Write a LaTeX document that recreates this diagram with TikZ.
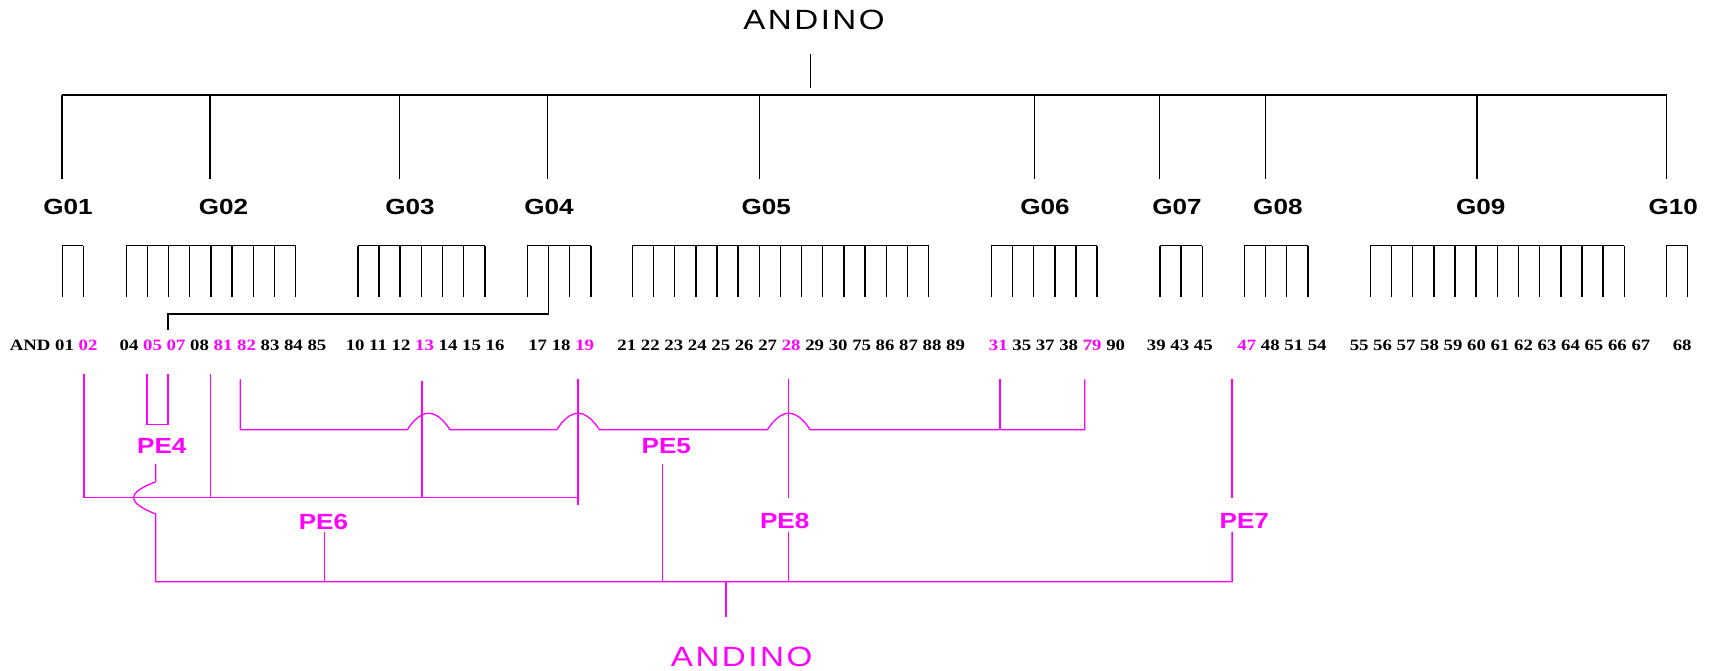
\documentclass[tikz,border=0pt]{standalone}
\usepackage{fontspec}
\newfontfamily\grpfont[FakeStretch=1.19]{Liberation Sans}
\newfontfamily\numfont[FakeStretch=1.19]{Liberation Serif}
\newfontfamily\rootfont[FakeStretch=1.19,LetterSpace=9]{Liberation Sans}
\definecolor{pmag}{RGB}{255,0,255}
\tikzset{
  tree/.style={line width=1.3pt, black},
  link/.style={line width=1.2pt, pmag},
  glabel/.style={inner sep=0pt, font=\grpfont\bfseries\fontsize{20}{24}\selectfont},
  pelabel/.style={glabel, text=pmag},
  codes/.style={inner sep=0pt, anchor=base west, font=\numfont\bfseries\fontsize{14.4}{17}\selectfont},
  rootlabel/.style={inner sep=0pt, font=\rootfont\fontsize{25.4}{30}\selectfont},
}
\begin{document}
\begin{tikzpicture}[x=1pt, y=-1pt]
  \useasboundingbox (0,0) rectangle (1568,612);

  % upper tree
  \node[rootlabel] (top) at (742.5,18.2) {ANDINO};
  \draw[tree] (739.5,49) -- (739.5,80);
  \draw[tree] (56.5,86.7) -- (1520.2,86.7);
  \foreach \x in {56.5,191.6,364.3,499.4,693,943.4,1057.8,1154.3,1347.3,1520.2}
    \draw[tree] (\x,86.7) -- (\x,163.3);

  \node[glabel] (g01) at (62,189) {G01};
  \node[glabel] (g02) at (203.9,189) {G02};
  \node[glabel] (g03) at (374,189) {G03};
  \node[glabel] (g04) at (500.8,189) {G04};
  \node[glabel] (g05) at (699,189) {G05};
  \node[glabel] (g06) at (953.2,189) {G06};
  \node[glabel] (g07) at (1073.6,189) {G07};
  \node[glabel] (g08) at (1165.6,189) {G08};
  \node[glabel] (g09) at (1350.7,189) {G09};
  \node[glabel] (g10) at (1526.2,189) {G10};

  % combs
  \foreach \x/\n in {56.8/2,115.2/9,326.4/7,481/4,576.8/15,904.3/6,1058/3,1135/4,1250/13,1520/2} {
    \draw[tree] (\x,224) -- ++({(\n-1)*19.3},0);
    \foreach \k in {1,...,\n}
      \draw[tree] ({\x+(\k-1)*19.3},224) -- ++(0,46.6);
  }
  \coordinate (g04b) at (500.2,270.6);
  \coordinate (c07) at (153.1,301);
  \draw[tree] (g04b) -- ++(0,15.8) -| (c07);

  % codes
  \node[codes] (grp01) at (8.7,319.8) {AND 01 \textcolor{pmag}{02}};
  \node[codes] (grp02) at (109,319.8) {04 \textcolor{pmag}{05 07} 08 \textcolor{pmag}{81 82} 83 84 85};
  \node[codes] (grp03) at (315.2,319.8) {10 11 12 \textcolor{pmag}{13} 14 15 16};
  \node[codes] (grp04) at (481.7,319.8) {17 18 \textcolor{pmag}{19}};
  \node[codes] (grp05) at (563,319.8) {21 22 23 24 25 26 27 \textcolor{pmag}{28} 29 30 75 86 87 88 89};
  \node[codes] (grp06) at (901.8,319.8) {\textcolor{pmag}{31} 35 37 38 \textcolor{pmag}{79} 90};
  \node[codes] (grp07) at (1046,319.8) {39 43 45};
  \node[codes] (grp08) at (1128.5,319.8) {\textcolor{pmag}{47} 48 51 54};
  \node[codes] (grp09) at (1231,319.8) {55 56 57 58 59 60 61 62 63 64 65 66 67};
  \node[codes] (grp10) at (1525.6,319.8) {68};

  % lower tree
  \coordinate (n02) at (76.5,341);
  \coordinate (n05) at (134,341);
  \coordinate (n07) at (153.1,341);
  \coordinate (n81) at (191.8,341.5);
  \coordinate (n82) at (219.1,346);
  \coordinate (n13) at (384.8,347.5);
  \coordinate (n19) at (527.3,346);
  \coordinate (n28) at (719.5,346);
  \coordinate (n31) at (912.2,346);
  \coordinate (n79) at (989.4,346);
  \coordinate (n47) at (1123.9,346);
  \coordinate (busL) at (142.1,530.6);
  \coordinate (busR) at (1123.9,530.6);

  \draw[link] (n05) -- (134,387) -- (153.1,387) -- (n07);
  \node[pelabel] (pe4) at (147.6,407.1) {PE4};

  \draw[link] (n02) -- (76.5,454) -- (527.3,454);
  \draw[link] (n81) -- (191.8,454);
  \draw[link] (n13) -- (384.8,454);
  \draw[link] (n19) -- (527.3,460.6);
  \node[pelabel] (pe6) at (295,476) {PE6};

  \draw[link] (n82) -- (219.1,392) -- (371.5,392)
    .. controls (384.5,372) and (397.5,372) .. (410.5,392) -- (507.8,392)
    .. controls (520.8,372) and (533.8,372) .. (546.8,392) -- (700,392)
    .. controls (713,372) and (726,372) .. (739,392) -- (989.4,392) -- (n79);
  \draw[link] (n31) -- (912.2,392);
  \node[pelabel] (pe5) at (607.8,407) {PE5};

  \draw[link] (n28) -- (719.5,454);
  \node[pelabel] (pe8) at (715.8,475) {PE8};
  \draw[link] (n47) -- (1123.9,454);
  \node[pelabel] (pe7) at (1135,475) {PE7};

  \draw[link] (142.1,423.2) -- (142.1,439.4)
    .. controls (115,450) and (115,458) .. (142.1,468.9) -- (busL) -- (busR) -- (1123.9,485);
  \draw[link] (296,485) -- (296,530.6);
  \draw[link] (604,423.2) -- (604,530.6);
  \draw[link] (719.5,485) -- (719.5,530.6);
  \draw[link] (662.2,530.6) -- (662.2,562.5);
  \node[rootlabel, text=pmag] (root) at (676.5,599) {ANDINO};
\end{tikzpicture}
\end{document}
